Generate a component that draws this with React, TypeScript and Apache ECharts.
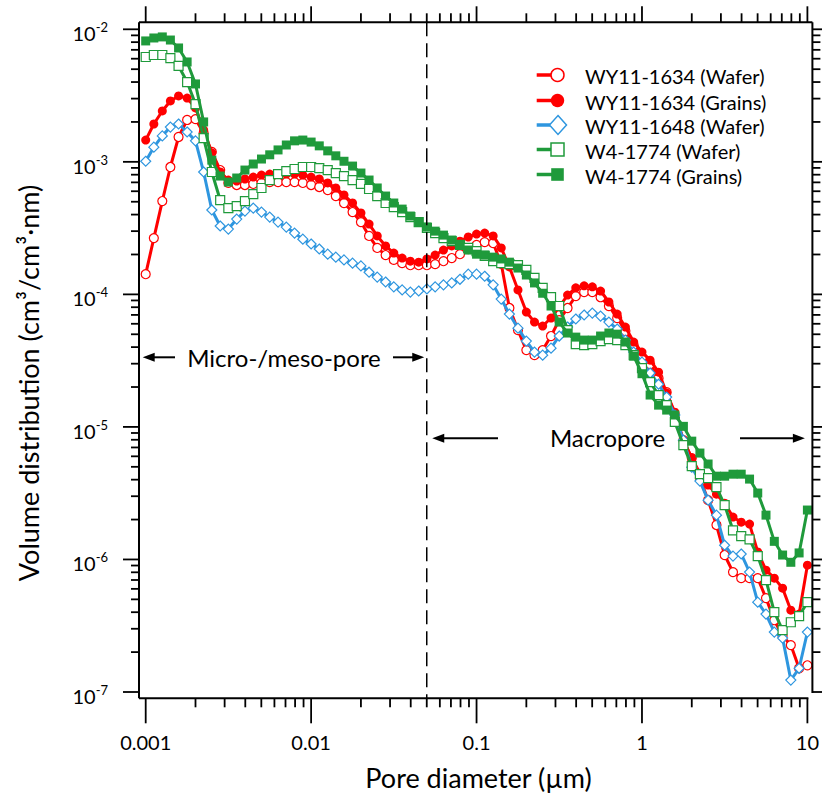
import React, { useEffect, useRef } from "react";
import * as echarts from "echarts";

// Pore diameter (µm) sampling positions
const poreDiameter = [
  0.001, 0.00112, 0.00126, 0.00141, 0.00158, 0.00178, 0.002, 0.00224, 0.00251, 0.00282,
  0.00316, 0.00355, 0.00398, 0.00447, 0.00501, 0.00562, 0.00631, 0.00708, 0.00794, 0.00891,
  0.01, 0.0112, 0.0126, 0.0141, 0.0158, 0.0178, 0.02, 0.0224, 0.0251, 0.0282,
  0.0316, 0.0355, 0.0398, 0.0447, 0.0501, 0.0562, 0.0631, 0.0708, 0.0794, 0.0891,
  0.1, 0.112, 0.126, 0.141, 0.158, 0.178, 0.2, 0.224, 0.251, 0.282,
  0.316, 0.355, 0.398, 0.447, 0.501, 0.562, 0.631, 0.708, 0.794, 0.891,
  1, 1.12, 1.26, 1.41, 1.58, 1.78, 2, 2.24, 2.51, 2.82,
  3.16, 3.55, 3.98, 4.47, 5.01, 5.62, 6.31, 7.08, 7.94, 8.91, 10,
];

const wy1634Wafer = [
  1.42e-4, 2.66e-4, 5.06e-4, 9.14e-4, 1.54e-3, 2.07e-3, 2.10e-3, 1.65e-3, 1.19e-3, 8.67e-4,
  6.93e-4, 6.69e-4, 6.69e-4, 6.81e-4, 6.93e-4, 7.04e-4, 7.04e-4, 7.04e-4, 7.04e-4, 6.93e-4,
  6.69e-4, 6.46e-4, 6.13e-4, 5.52e-4, 4.89e-4, 4.18e-4, 3.51e-4, 2.76e-4, 2.24e-4, 1.98e-4,
  1.82e-4, 1.72e-4, 1.66e-4, 1.66e-4, 1.66e-4, 1.69e-4, 1.78e-4, 1.88e-4, 2.01e-4, 2.20e-4,
  2.36e-4, 2.48e-4, 2.44e-4, 1.70e-4, 7.89e-5, 5.38e-5, 3.80e-5, 3.48e-5, 3.80e-5, 4.85e-5,
  6.40e-5, 7.89e-5, 9.71e-5, 1.04e-4, 1.04e-4, 9.52e-5, 8.17e-5, 6.63e-5, 5.29e-5, 4.14e-5,
  3.36e-5, 2.98e-5, 2.33e-5, 1.83e-5, 1.23e-5, 7.95e-6, 5.82e-6, 4.11e-6, 2.80e-6, 1.82e-6,
  1.08e-6, 8.03e-7, 7.23e-7, 7.23e-7, 7.23e-7, 5.11e-7, 3.48e-7, 2.64e-7, 2.26e-7, 1.51e-7, 1.59e-7,
];

const wy1634Grains = [
  1.46e-3, 1.93e-3, 2.42e-3, 2.88e-3, 3.14e-3, 3.03e-3, 2.55e-3, 1.74e-3, 1.17e-3, 8.38e-4,
  7.29e-4, 7.17e-4, 7.42e-4, 7.68e-4, 7.95e-4, 8.09e-4, 8.09e-4, 8.09e-4, 8.09e-4, 7.95e-4,
  7.68e-4, 7.42e-4, 6.93e-4, 6.35e-4, 5.62e-4, 4.89e-4, 4.11e-4, 3.39e-4, 2.76e-4, 2.32e-4,
  2.05e-4, 1.88e-4, 1.78e-4, 1.75e-4, 1.85e-4, 1.98e-4, 2.16e-4, 2.32e-4, 2.52e-4, 2.71e-4,
  2.85e-4, 2.90e-4, 2.76e-4, 2.24e-4, 1.61e-4, 1.08e-4, 7.36e-5, 6.18e-5, 5.77e-5, 6.63e-5,
  8.03e-5, 9.88e-5, 1.12e-4, 1.16e-4, 1.14e-4, 1.06e-4, 8.76e-5, 7.10e-5, 5.67e-5, 4.37e-5,
  3.67e-5, 3.19e-5, 2.59e-5, 1.80e-5, 1.29e-5, 7.95e-6, 5.82e-6, 4.48e-6, 3.64e-6, 3.11e-6,
  2.66e-6, 2.09e-6, 1.91e-6, 1.85e-6, 1.14e-6, 8.30e-7, 7.23e-7, 6.07e-7, 4.14e-7, 3.87e-7, 9.06e-7,
];

const wy1648Wafer = [
  1.01e-3, 1.29e-3, 1.57e-3, 1.83e-3, 1.93e-3, 1.68e-3, 1.44e-3, 8.38e-4, 4.33e-4, 3.28e-4,
  3.11e-4, 3.70e-4, 4.25e-4, 4.48e-4, 4.18e-4, 3.83e-4, 3.51e-4, 3.22e-4, 2.90e-4, 2.61e-4,
  2.40e-4, 2.20e-4, 2.01e-4, 1.91e-4, 1.82e-4, 1.72e-4, 1.64e-4, 1.47e-4, 1.35e-4, 1.24e-4,
  1.14e-4, 1.08e-4, 1.04e-4, 1.06e-4, 1.10e-4, 1.14e-4, 1.18e-4, 1.22e-4, 1.30e-4, 1.42e-4,
  1.42e-4, 1.37e-4, 1.18e-4, 9.22e-5, 7.10e-5, 5.56e-5, 4.44e-5, 3.67e-5, 3.48e-5, 3.93e-5,
  4.85e-5, 5.67e-5, 6.52e-5, 6.99e-5, 7.23e-5, 6.86e-5, 6.18e-5, 5.48e-5, 4.52e-5, 3.67e-5,
  3.08e-5, 2.55e-5, 2.10e-5, 1.68e-5, 1.23e-5, 7.95e-6, 4.97e-6, 3.90e-6, 2.80e-6, 2.16e-6,
  1.28e-6, 1.06e-6, 1.10e-6, 8.03e-7, 4.76e-7, 3.87e-7, 2.83e-7, 2.55e-7, 1.23e-7, 1.51e-7, 2.83e-7,
];

const w4Wafer = [
  6.18e-3, 6.40e-3, 6.40e-3, 6.07e-3, 5.29e-3, 4.00e-3, 2.73e-3, 1.51e-3, 8.38e-4, 5.15e-4,
  4.48e-4, 4.64e-4, 5.06e-4, 5.71e-4, 6.35e-4, 7.29e-4, 8.09e-4, 8.52e-4, 8.83e-4, 9.14e-4,
  9.14e-4, 8.98e-4, 8.67e-4, 8.23e-4, 7.81e-4, 7.29e-4, 6.81e-4, 6.24e-4, 5.52e-4, 4.89e-4,
  4.56e-4, 4.18e-4, 3.83e-4, 3.51e-4, 3.17e-4, 2.90e-4, 2.66e-4, 2.52e-4, 2.36e-4, 2.24e-4,
  2.12e-4, 1.95e-4, 1.78e-4, 1.72e-4, 1.69e-4, 1.66e-4, 1.53e-4, 1.33e-4, 1.12e-4, 9.52e-5,
  8.17e-5, 5.38e-5, 4.21e-5, 4.14e-5, 4.21e-5, 4.44e-5, 4.60e-5, 4.52e-5, 4.14e-5, 3.48e-5,
  2.78e-5, 2.18e-5, 1.74e-5, 1.46e-5, 1.09e-5, 7.29e-6, 5.06e-6, 4.40e-6, 4.11e-6, 3.51e-6,
  2.57e-6, 1.66e-6, 1.50e-6, 1.42e-6, 1.06e-6, 6.99e-7, 4.00e-7, 2.93e-7, 3.36e-7, 3.74e-7, 4.76e-7,
];

const w4Grains = [
  8.17e-3, 8.60e-3, 8.76e-3, 8.30e-3, 7.23e-3, 5.67e-3, 3.87e-3, 2.00e-3, 1.03e-3, 7.81e-4,
  7.04e-4, 7.55e-4, 8.67e-4, 9.63e-4, 1.05e-3, 1.13e-3, 1.23e-3, 1.34e-3, 1.44e-3, 1.46e-3,
  1.41e-3, 1.32e-3, 1.21e-3, 1.11e-3, 1.01e-3, 9.29e-4, 8.23e-4, 7.29e-4, 6.35e-4, 5.52e-4,
  4.89e-4, 4.40e-4, 3.90e-4, 3.51e-4, 3.22e-4, 3.00e-4, 2.80e-4, 2.57e-4, 2.36e-4, 2.16e-4,
  2.01e-4, 1.98e-4, 1.91e-4, 1.85e-4, 1.75e-4, 1.58e-4, 1.40e-4, 1.22e-4, 1.02e-4, 8.17e-5,
  6.18e-5, 5.11e-5, 4.76e-5, 4.52e-5, 4.52e-5, 4.85e-5, 5.11e-5, 5.01e-5, 4.37e-5, 3.42e-5,
  2.52e-5, 1.74e-5, 1.46e-5, 1.34e-5, 1.23e-5, 1.01e-5, 7.81e-6, 6.35e-6, 5.25e-6, 4.25e-6,
  4.25e-6, 4.40e-6, 4.40e-6, 4.04e-6, 3.17e-6, 2.16e-6, 1.37e-6, 1.08e-6, 9.52e-7, 1.12e-6, 2.36e-6,
];

const seriesNames = [
  "WY11-1634 (Wafer)",
  "WY11-1634 (Grains)",
  "WY11-1648 (Wafer)",
  "W4-1774 (Wafer)",
  "W4-1774 (Grains)",
];

const xTickLabels = ["0.001", "0.01", "0.1", "1", "10"];
const xMajorTicks = [0.001, 0.01, 0.1, 1, 10];
const yMajorTicks = [1e-7, 1e-6, 1e-5, 1e-4, 1e-3, 1e-2];
const minorMultipliers = [2, 3, 4, 5, 6, 7, 8, 9];
const boundaryDiameter = 0.05;

const RED = "#ff0000";
const BLUE = "#2e96df";
const GREEN = "#1f9a3b";
const FONT = "Lato";

const W = 822;
const H = 801;
const GRID = { left: 145.7, right: 12.7, top: 29.3, bottom: 109 };
const OFF = { left: 6.7, right: 5, top: 7, bottom: 6.3 };

const minorOf = (majors: number[]) =>
  majors.slice(0, -1).flatMap((d) => minorMultipliers.map((m) => Number((d * m).toPrecision(3))));

export default function App() {
  const ref = useRef<HTMLDivElement>(null);

  useEffect(() => {
    const chart = echarts.init(ref.current as HTMLDivElement, null, { renderer: "svg" });

    const mk = (
      name: string,
      values: number[],
      color: string,
      symbol: string,
      filled: boolean,
      size: number,
      z: number
    ) => ({
      name,
      type: "line",
      data: poreDiameter.map((d, i) => [d, values[i]]),
      symbol,
      symbolSize: size,
      showSymbol: true,
      showAllSymbol: true,
      lineStyle: { color, width: 3 },
      itemStyle: filled
        ? { color, borderWidth: 0 }
        : { color: "#ffffff", borderColor: color, borderWidth: 1.2 },
      emphasis: { disabled: true },
      clip: false,
      z,
    });

    const tickStyle = { stroke: "#000", lineWidth: 1.8 };

    const xTicksData = [
      ...xMajorTicks.map((v) => [v, 1, 1e-4]),
      ...minorOf(xMajorTicks).map((v) => [v, 0, 1e-4]),
    ];
    const yTicksData = [
      ...yMajorTicks.map((v) => [0.01, v, 1]),
      ...minorOf(yMajorTicks).map((v) => [0.01, v, 0]),
    ];

    chart.setOption({
      animation: false,
      textStyle: { fontFamily: FONT },
      grid: { ...GRID, containLabel: false },
      xAxis: {
        type: "log",
        logBase: 10,
        min: 0.001,
        max: 10,
        offset: OFF.bottom,
        axisLine: { show: false },
        axisTick: { show: false },
        splitLine: { show: false },
        minorTick: { show: false },
        axisLabel: {
          margin: 33,
          fontSize: 20,
          lineHeight: 22,
          color: "#000",
          fontFamily: FONT,
          formatter: (v: number) => xTickLabels[Math.round(Math.log10(v)) + 3] ?? "",
        },
      },
      yAxis: {
        type: "log",
        logBase: 10,
        min: 1e-7,
        max: 1e-2,
        offset: OFF.left,
        axisLine: { show: false },
        axisTick: { show: false },
        splitLine: { show: false },
        axisLabel: {
          margin: 31,
          color: "#000",
          padding: [8, 0, 0, 0],
          formatter: (v: number) => `{b|10}{s|${Math.round(Math.log10(v))}}`,
          rich: {
            b: { fontSize: 20, fontFamily: FONT, color: "#000", lineHeight: 24 },
            s: { fontSize: 13, fontFamily: FONT, color: "#000", lineHeight: 14, padding: [0, 0, 12, 0] },
          },
        },
      },
      series: [
        {
          type: "custom",
          silent: true,
          clip: false,
          z: 10,
          encode: { x: 0, y: 2 },
          data: xTicksData,
          renderItem: (_p: any, api: any) => {
            const v = api.value(0);
            const major = api.value(1) === 1;
            const pb = api.coord([v, 1e-7]);
            const pt = api.coord([v, 1e-2]);
            const yb = pb[1] + OFF.bottom;
            const yt = pt[1] - OFF.top;
            const lb = major ? 25 : 9;
            const lt = major ? 16 : 9;
            return {
              type: "group",
              children: [
                { type: "line", shape: { x1: pb[0], y1: yb, x2: pb[0], y2: yb + lb }, style: tickStyle },
                { type: "line", shape: { x1: pt[0], y1: yt, x2: pt[0], y2: yt - lt }, style: tickStyle },
              ],
            };
          },
        },
        {
          type: "custom",
          silent: true,
          clip: false,
          z: 10,
          encode: { x: 0, y: 1 },
          data: yTicksData,
          renderItem: (_p: any, api: any) => {
            const v = api.value(1);
            const major = api.value(2) === 1;
            const pl = api.coord([0.001, v]);
            const pr = api.coord([10, v]);
            const xl = pl[0] - OFF.left;
            const xr = pr[0] + OFF.right;
            const len = major ? 16 : 8;
            return {
              type: "group",
              children: [
                { type: "line", shape: { x1: xl, y1: pl[1], x2: xl - len, y2: pl[1] }, style: tickStyle },
                { type: "line", shape: { x1: xr, y1: pr[1], x2: xr + len, y2: pr[1] }, style: tickStyle },
              ],
            };
          },
        },
        mk(seriesNames[0], wy1634Wafer, RED, "circle", false, 9, 3),
        mk(seriesNames[1], wy1634Grains, RED, "circle", true, 9, 4),
        mk(seriesNames[2], wy1648Wafer, BLUE, "diamond", false, 10, 5),
        mk(seriesNames[3], w4Wafer, GREEN, "rect", false, 9, 6),
        mk(seriesNames[4], w4Grains, GREEN, "rect", true, 9, 7),
      ],
    });

    const px = (x: number, y: number) =>
      chart.convertToPixel({ xAxisIndex: 0, yAxisIndex: 0 }, [x, y]) as number[];
    const [gx0, gy0] = px(0.001, 1e-7);
    const [gx1, gy1] = px(10, 1e-2);
    const left = gx0 - OFF.left;
    const right = gx1 + OFF.right;
    const top = gy1 - OFF.top;
    const bottom = gy0 + OFF.bottom;
    const bx = px(boundaryDiameter, 1e-4)[0];

    const frame = { stroke: "#000", lineWidth: 2 };
    const arrowLine = { stroke: "#000", lineWidth: 2 };

    const arrow = (x1: number, x2: number, y: number) => {
      const dir = x2 > x1 ? 1 : -1;
      return [
        { type: "line", shape: { x1, y1: y, x2: x2 - dir * 10, y2: y }, style: arrowLine },
        {
          type: "polygon",
          shape: { points: [[x2, y], [x2 - dir * 12, y - 4.5], [x2 - dir * 12, y + 4.5]] },
          style: { fill: "#000" },
        },
      ];
    };

    const textStyle = (text: string, size: number, align = "center") => ({
      text,
      fontSize: size,
      fontFamily: FONT,
      fill: "#000",
      align,
      textAlign: align,
      verticalAlign: "middle",
      textVerticalAlign: "middle",
    });

    const legendRows = [75, 100.5, 125, 149.5, 174.5];
    const legendColors = [RED, RED, BLUE, GREEN, GREEN];
    const lx0 = 536.7;
    const mcx = 557.5;
    const legendMarker = (i: number, y: number) => {
      const c = legendColors[i];
      if (i === 0) return { type: "circle", shape: { cx: mcx, cy: y, r: 6.5 }, style: { fill: "#fff", stroke: c, lineWidth: 1.5 } };
      if (i === 1) return { type: "circle", shape: { cx: mcx, cy: y, r: 6.7 }, style: { fill: c } };
      if (i === 2)
        return {
          type: "polygon",
          shape: { points: [[mcx + 0.5, y - 9.5], [mcx + 9, y], [mcx + 0.5, y + 9.5], [mcx - 8, y]] },
          style: { fill: "#fff", stroke: c, lineWidth: 1.5 },
        };
      if (i === 3) return { type: "rect", shape: { x: mcx - 6.5, y: y - 6.5, width: 13, height: 13 }, style: { fill: "#fff", stroke: c, lineWidth: 1.5 } };
      return { type: "rect", shape: { x: mcx - 6.3, y: y - 6.3, width: 12.6, height: 12.6 }, style: { fill: c } };
    };

    const legend = seriesNames.flatMap((name, i) => {
      const y = legendRows[i];
      return [
        { type: "line", shape: { x1: lx0, y1: y, x2: mcx - 4, y2: y }, style: { stroke: legendColors[i], lineWidth: 3.5 } },
        legendMarker(i, y),
        { type: "text", x: 585, y: y + 1, style: textStyle(name, 20, "left") },
      ];
    });

    chart.setOption({
      graphic: [
        { type: "line", shape: { x1: left, y1: top, x2: right, y2: top }, style: frame, z: 20 },
        { type: "line", shape: { x1: left, y1: top, x2: left, y2: bottom }, style: frame, z: 20 },
        { type: "line", shape: { x1: left, y1: bottom, x2: gx1 + 1, y2: bottom }, style: frame, z: 20 },
        { type: "line", shape: { x1: right, y1: top, x2: right, y2: gy0 + 1 }, style: frame, z: 20 },
        {
          type: "line",
          shape: { x1: bx, y1: top, x2: bx, y2: bottom },
          style: { stroke: "#000", lineWidth: 1.5, lineDash: [14, 7] },
          z: 20,
        },
        ...arrow(175, left + 3.7, 357.3),
        ...arrow(393, bx - 2.5, 357.3),
        { type: "text", x: 284, y: 357, style: textStyle("Micro-/meso-pore", 24) },
        ...arrow(498, bx + 5.5, 438.3),
        ...arrow(740, right - 7.5, 438.3),
        { type: "text", x: 607.5, y: 437, style: textStyle("Macropore", 24) },
        ...legend,
        { type: "text", x: (gx0 + gx1) / 2 + 2, y: 777, style: textStyle("Pore diameter (µm)", 27) },
        {
          type: "text",
          x: 28,
          y: 383,
          rotation: Math.PI / 2,
          style: textStyle("Volume distribution (cm³/cm³·nm)", 27),
        },
      ],
    });

    return () => chart.dispose();
  }, []);

  return <div ref={ref} style={{ position: "absolute", left: 0, top: 0, width: W, height: H }} />;
}
